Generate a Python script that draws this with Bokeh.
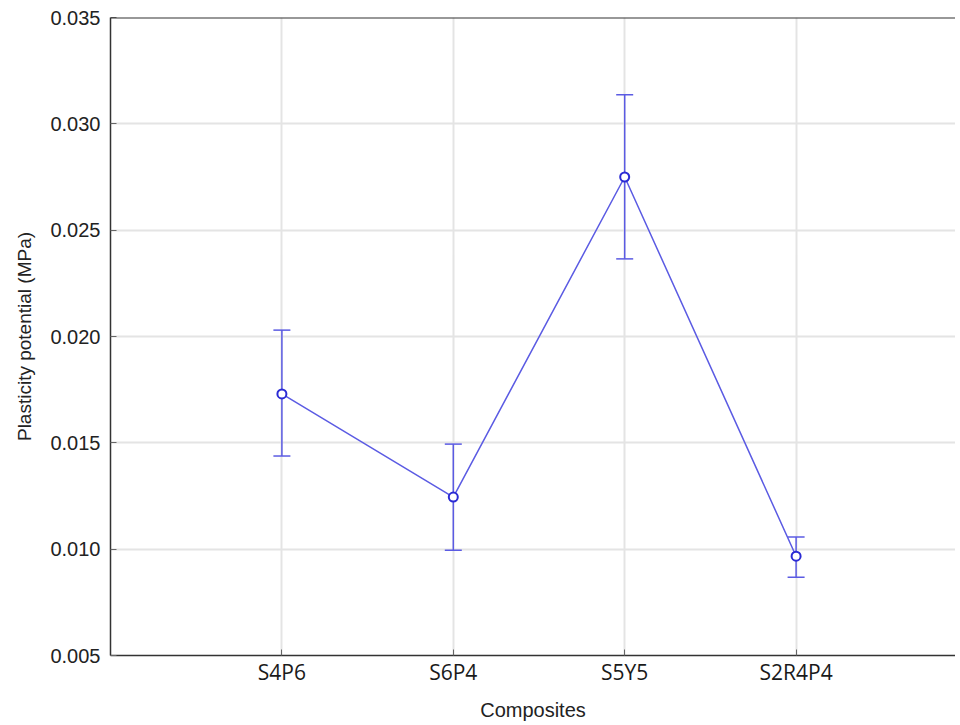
from bokeh.plotting import figure
from bokeh.models import (ColumnDataSource, FixedTicker, Range1d, Whisker, TeeHead,
                          Span, PrintfTickFormatter)
from bokeh.embed import file_html
from bokeh.resources import INLINE

categories = ["S4P6", "S6P4", "S5Y5", "S2R4P4"]
positions = [1, 2, 3, 4]
means = [0.0173, 0.01245, 0.0275, 0.00967]
upper = [0.0203, 0.01494, 0.03137, 0.01057]
lower = [0.01438, 0.00995, 0.02365, 0.00868]
y_ticks = [0.005, 0.010, 0.015, 0.020, 0.025, 0.030, 0.035]

src = ColumnDataSource(dict(x=positions, y=means, upper=upper, lower=lower))

p = figure(width=955, height=723, output_backend="svg", toolbar_location=None,
           x_range=Range1d(0, 4.93), y_range=Range1d(0.005, 0.035),
           min_border_left=110, min_border_top=17, min_border_bottom=66,
           min_border_right=0, background_fill_color="white",
           border_fill_color="white")
p.outline_line_color = None

GRID = "#e4e4e4"
AX = "#333333"

p.xgrid.grid_line_color = GRID
p.xgrid.grid_line_width = 2
p.ygrid.grid_line_color = GRID
p.ygrid.grid_line_width = 2

p.xaxis.ticker = FixedTicker(ticks=positions)
p.xaxis.major_label_overrides = {pos: c for pos, c in zip(positions, categories)}
p.xaxis.major_label_text_font = "Open Sans"
p.xaxis.major_label_text_font_size = "21px"
p.xaxis.major_label_text_color = "#1a1a1a"
p.xaxis.major_label_standoff = 2
p.xaxis.axis_label = "Composites"
p.xaxis.axis_label_text_font = "Liberation Sans"
p.xaxis.axis_label_text_font_size = "20px"
p.xaxis.axis_label_text_font_style = "normal"
p.xaxis.axis_label_text_color = "#222222"
p.xaxis.axis_label_standoff = 10

p.yaxis.ticker = FixedTicker(ticks=y_ticks)
p.yaxis.formatter = PrintfTickFormatter(format="%.3f")
p.yaxis.major_label_text_font = "Liberation Sans"
p.yaxis.major_label_text_font_size = "20px"
p.yaxis.major_label_text_color = "#222222"
p.yaxis.major_label_standoff = 10
p.yaxis.axis_label = "Plasticity potential (MPa)"
p.yaxis.axis_label_text_font = "Liberation Sans"
p.yaxis.axis_label_text_font_size = "19px"
p.yaxis.axis_label_text_font_style = "normal"
p.yaxis.axis_label_text_color = "#222222"
p.yaxis.axis_label_standoff = 12

for ax in (p.xaxis, p.yaxis):
    ax.axis_line_color = AX
    ax.axis_line_width = 1.5
    ax.major_tick_in = 6
    ax.major_tick_out = 0
    ax.major_tick_line_color = "#666666"
    ax.minor_tick_line_color = None

p.add_layout(Span(location=0.035, dimension="width", line_color=AX, line_width=2))

LINE = "#5b5be3"
p.line("x", "y", source=src, line_color=LINE, line_width=1.5)
w = Whisker(base="x", upper="upper", lower="lower", source=src,
            line_color=LINE, line_width=1.5,
            upper_head=TeeHead(size=17, line_color=LINE, line_width=1.5),
            lower_head=TeeHead(size=17, line_color=LINE, line_width=1.5))
p.add_layout(w)
p.scatter("x", "y", source=src, marker="circle", size=9, line_color="#2b2bd4",
          line_width=2, fill_color="white")

open("out.html", "w").write(file_html(p, INLINE))
